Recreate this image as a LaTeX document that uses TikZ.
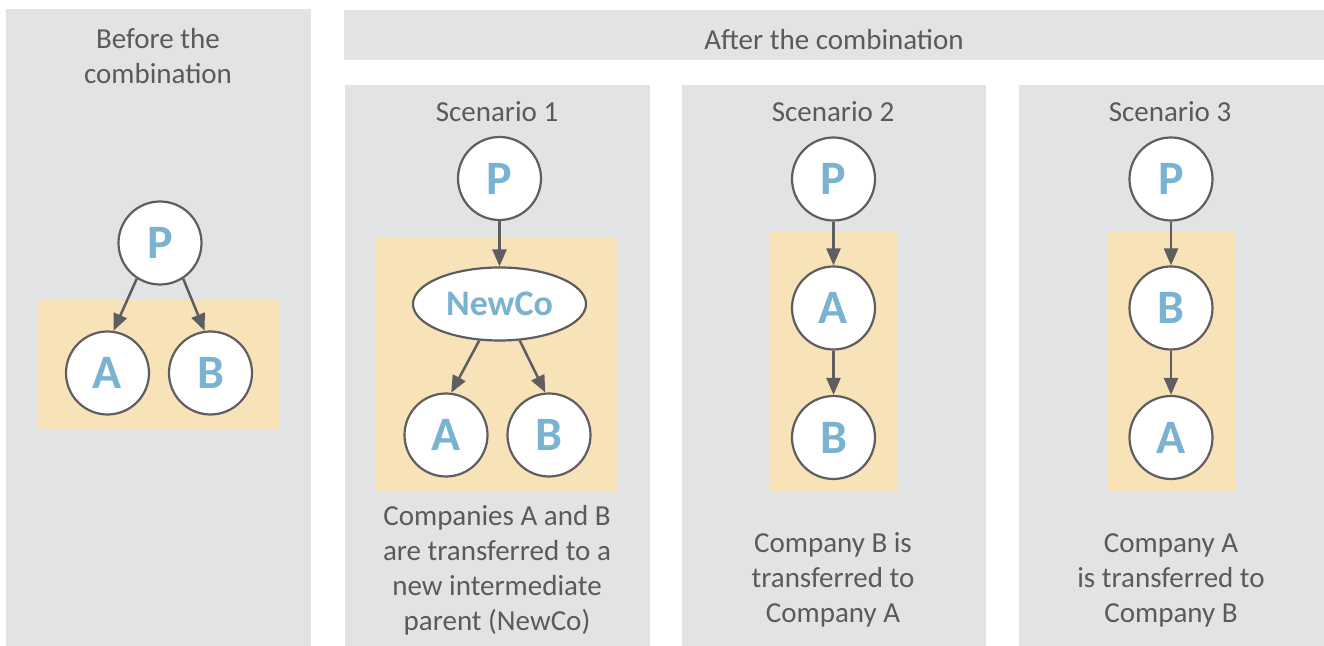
\documentclass[tikz,border=0pt]{standalone}
\usepackage{fontspec}
\setmainfont{Carlito}
\usetikzlibrary{arrows.meta,shapes.geometric}
\definecolor{panelgray}{HTML}{E2E3E5}
\definecolor{beige}{HTML}{F8E2B8}
\definecolor{txtgray}{HTML}{5A5A5A}
\definecolor{lblue}{HTML}{7AB3D1}
\definecolor{edgegray}{HTML}{5E5E60}
\begin{document}
\begin{tikzpicture}[x=0.5pt,y=-0.5pt,
  panel/.style={fill=panelgray,draw=none},
  zone/.style={fill=beige,draw=none},
  company/.style={circle,draw=edgegray,line width=1.1pt,fill=white,minimum size=41.5pt,inner sep=0pt,
    font=\fontsize{24}{24}\selectfont\bfseries,text=lblue},
  newco/.style={ellipse,draw=edgegray,line width=1.1pt,fill=white,minimum width=86.5pt,minimum height=36.5pt,inner sep=0pt,
    font=\fontsize{18}{18}\selectfont\bfseries,text=lblue},
  link/.style={draw=edgegray,line width=1.25pt,-{Triangle[length=8.5pt,width=7pt]}},
  desc/.style={align=center,anchor=base,inner sep=0pt,text=txtgray,font=\fontsize{14.5}{17.5}\selectfont}
]
\useasboundingbox (0,0) rectangle (1324,646);
% panels
\path[panel] (6,9) rectangle (311,646);
\path[panel] (344,10) rectangle (1324,60);
\path[panel] (345,85) rectangle (650,646);
\path[panel] (682,85) rectangle (986,646);
\path[panel] (1019,85) rectangle (1324,646);
% beige zones
\path[zone] (38,299) rectangle (279,430);
\path[zone] (376,237) rectangle (618,492);
\path[zone] (769,232) rectangle (897,492);
\path[zone] (1107,232) rectangle (1235,492);
% titles (anchor = baseline of the last line)
\node[desc] (t0) at (158,84) {Before the\\combination};
\node[desc] (th) at (834,50) {After the combination};
\node[desc] (t1) at (497,122) {Scenario 1};
\node[desc] (t2) at (833,122) {Scenario 2};
\node[desc] (t3) at (1170,122) {Scenario 3};
% before
\node[company] (p0) at (160,243) {P};
\node[company] (a0) at (107.5,373) {A};
\node[company] (b0) at (210.5,373) {B};
\draw[link] (p0.-123) -- (a0.82);
\draw[link] (p0.-57) -- (b0.98);
% scenario 1
\node[company] (p1) at (499.5,178.5) {P};
\node[newco] (n1) at (499.5,304) {NewCo};
\node[company] (a1) at (446,435) {A};
\node[company] (b1) at (549,435) {B};
\draw[link] (p1) -- (n1);
\draw[link] (n1.-119) -- (a1.83);
\draw[link] (n1.-61) -- (b1.95);
\node[desc] (d1) at (497,631) {Companies A and B\\are transferred to a\\new intermediate\\parent (NewCo)};
% scenario 2
\node[company] (p2) at (833.5,179) {P};
\node[company] (a2) at (833.5,308) {A};
\node[company] (b2) at (833.5,437.5) {B};
\draw[link] (p2) -- (a2);
\draw[link] (a2) -- (b2);
\node[desc] (d2) at (833,623) {Company B is\\transferred to\\Company A};
% scenario 3
\node[company] (p3) at (1171,179) {P};
\node[company] (b3) at (1171,308) {B};
\node[company] (a3) at (1171,437.5) {A};
\draw[link] (p3) -- (b3);
\draw[link] (b3) -- (a3);
\node[desc] (d3) at (1171,623) {Company A\\is transferred to\\Company B};
\end{tikzpicture}
\end{document}
